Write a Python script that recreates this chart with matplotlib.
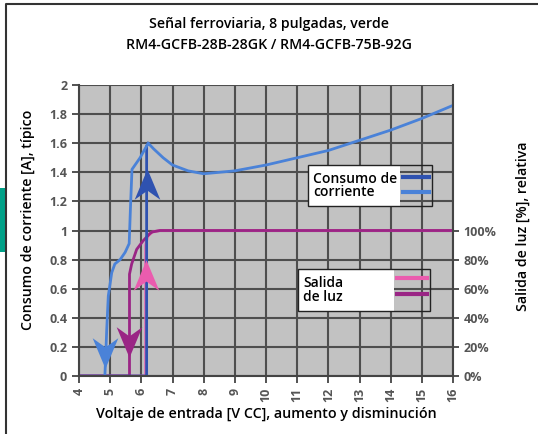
import matplotlib
matplotlib.use('Agg')
import matplotlib.pyplot as plt
from matplotlib.patches import Rectangle
from matplotlib.lines import Line2D
from matplotlib.path import Path

# current, rising voltage (dark blue)
cur_up_x = [4.0, 6.17, 6.17, 6.22]
cur_up_y = [0.0, 0.0, 1.58, 1.60]

# current, falling voltage (light blue)
cur_dn_x = [16.0, 15.0, 14.0, 13.0, 12.0, 11.0, 10.0, 9.0, 8.0, 7.5, 7.0, 6.7, 6.4, 6.22,
            5.96, 5.7, 5.65, 5.61, 5.48, 5.32, 5.15, 5.05, 4.94, 4.89, 4.85, 4.83]
cur_dn_y = [1.86, 1.77, 1.69, 1.62, 1.55, 1.50, 1.45, 1.41, 1.39, 1.41, 1.45, 1.50, 1.56, 1.60,
            1.50, 1.42, 1.15, 0.91, 0.85, 0.80, 0.77, 0.71, 0.55, 0.32, 0.10, 0.0]

# light output, rising voltage (pink)
lum_up_x = [4.0, 6.14, 6.14, 6.2, 6.35, 6.6, 16.0]
lum_up_y = [0.0, 0.0, 0.90, 0.96, 0.99, 1.0, 1.0]

# light output, falling voltage (purple)
lum_dn_x = [16.0, 6.6, 6.35, 6.28, 6.06, 5.85, 5.69, 5.62, 5.62, 4.0]
lum_dn_y = [1.0, 1.0, 0.99, 0.98, 0.93, 0.87, 0.77, 0.70, 0.0, 0.0]

# direction arrows: x, y (centre), pointing up?
arr_x = [6.17, 4.83, 5.62, 6.14]
arr_y = [1.32, 0.155, 0.235, 0.695]
arr_up = [True, False, False, True]

x_ticks = list(range(4, 17))
y_ticks = [0, 0.2, 0.4, 0.6, 0.8, 1, 1.2, 1.4, 1.6, 1.8, 2]
y_labels = ['0', '0.2', '0.4', '0.6', '0.8', '1', '1.2', '1.4', '1.6', '1.8', '2']
r_ticks = [0, 20, 40, 60, 80, 100]
r_labels = ['0%', '20%', '40%', '60%', '80%', '100%']

c_dark = '#2f52b0'
c_light = '#4a82d8'
c_pink = '#ea5cae'
c_purple = '#9a2585'
c_tick = '#555555'
arr_col = [c_dark, c_light, c_purple, c_pink]

plt.rcParams['font.family'] = ['Open Sans', 'DejaVu Sans']

fig = plt.figure(figsize=(5.38, 4.34), dpi=100)
W, H = 538, 434
ax = fig.add_axes([79 / W, 1 - 376 / H, (453 - 79) / W, (376 - 85) / H])
ax.set_facecolor('#c2c2c2')
ax.set_xlim(4, 16)
ax.set_ylim(0, 2)
ax.set_xticks(x_ticks)
ax.set_yticks(y_ticks)
ax.set_yticklabels(y_labels)
ax.grid(True, color='#4e4e4e', lw=1.5)
ax.set_axisbelow(True)
ax.spines['top'].set_visible(False)
for s in ['left', 'bottom', 'right']:
    ax.spines[s].set_color('#444444')
    ax.spines[s].set_linewidth(1.5)
ax.tick_params(axis='x', labelrotation=90, length=5, width=1.3, color='#444444', labelsize=9, labelcolor=c_tick)
ax.tick_params(axis='y', length=5, width=1.3, color='#444444', labelsize=9, labelcolor=c_tick)
for t in ax.get_xticklabels() + ax.get_yticklabels():
    t.set_fontweight('bold')

ax.plot(lum_up_x, lum_up_y, color=c_pink, lw=2, solid_joinstyle='round')
ax.plot(lum_dn_x, lum_dn_y, color=c_purple, lw=2, solid_joinstyle='round')
ax.plot(cur_up_x, cur_up_y, color=c_dark, lw=2, solid_joinstyle='round')
ax.plot(cur_dn_x, cur_dn_y, color=c_light, lw=2, solid_joinstyle='round')

# notched arrow heads as markers
up_head = Path([(0, 0.5), (0.42, -0.5), (0, -0.2), (-0.42, -0.5), (0, 0.5)],
               [Path.MOVETO, Path.LINETO, Path.LINETO, Path.LINETO, Path.CLOSEPOLY])
dn_head = Path([(0, -0.5), (0.42, 0.5), (0, 0.2), (-0.42, 0.5), (0, -0.5)],
               [Path.MOVETO, Path.LINETO, Path.LINETO, Path.LINETO, Path.CLOSEPOLY])
for x, y, up, c in zip(arr_x, arr_y, arr_up, arr_col):
    ax.plot([x], [y], marker=up_head if up else dn_head, markersize=22, color=c,
            markeredgewidth=0, linestyle='none')

ax2 = ax.twinx()
ax2.set_ylim(0, 200)
ax2.set_yticks(r_ticks)
ax2.set_yticklabels(r_labels)
ax2.tick_params(axis='y', length=4, width=1.3, color='#444444', labelsize=9, labelcolor=c_tick)
for t in ax2.get_yticklabels():
    t.set_fontweight('bold')
for s in ['top', 'left', 'bottom', 'right']:
    ax2.spines[s].set_visible(False)

# legend boxes drawn by hand (white text area + line samples on grey)
def legend_box(x0, y0, x1, y1, xw, text, c1, c2, y_l1, y_l2):
    tr = fig.transFigure
    fig.patches.append(Rectangle((x0 / W, 1 - y1 / H), (xw - x0) / W, (y1 - y0) / H,
                                 transform=tr, facecolor='white', edgecolor='none', zorder=5))
    fig.patches.append(Rectangle((x0 / W, 1 - y1 / H), (x1 - x0) / W, (y1 - y0) / H,
                                 transform=tr, facecolor='none', edgecolor='#222222', lw=1, zorder=6))
    fig.text((x0 + 5) / W, 1 - (y0 + y1) / 2 / H, text, fontsize=10, va='center', ha='left',
             color='black', linespacing=0.95, zorder=7, fontweight='semibold')
    fig.lines.append(Line2D([(xw + 3) / W, (x1 - 3) / W], [1 - y_l1 / H] * 2, transform=tr,
                            color=c1, lw=3, zorder=7))
    fig.lines.append(Line2D([(xw + 3) / W, (x1 - 3) / W], [1 - y_l2 / H] * 2, transform=tr,
                            color=c2, lw=3, zorder=7))

legend_box(308, 165, 432, 206, 400, 'Consumo de\ncorriente', c_dark, c_light, 177, 192)
legend_box(298, 269, 430, 311, 394, 'Salida\nde luz', c_pink, c_purple, 278, 294)

fig.text(269 / W, 1 - 24 / H, 'Señal ferroviaria, 8 pulgadas, verde', ha='center', va='center',
         fontsize=10.2, fontweight='semibold')
fig.text(269 / W, 1 - 45 / H, 'RM4-GCFB-28B-28GK / RM4-GCFB-75B-92G', ha='center', va='center',
         fontsize=10.2, fontweight='semibold')
fig.text(266 / W, 1 - 414 / H, 'Voltaje de entrada [V CC], aumento y disminución', ha='center',
         va='center', fontsize=10.3, fontweight='semibold')
fig.text(28 / W, 1 - 220 / H, 'Consumo de corriente [A], típico', ha='center', va='center',
         rotation=90, fontsize=10.2, fontweight='semibold')
fig.text(523 / W, 1 - 226 / H, 'Salida de luz [%], relativa', ha='center', va='center',
         rotation=90, fontsize=10.2, fontweight='semibold')

# outer frame and green tab
fig.lines.append(Line2D([6 / W, 6 / W, 1], [0, 1 - 4 / H, 1 - 4 / H], transform=fig.transFigure,
                        color='#333333', lw=1.5))
fig.patches.append(Rectangle((0, 1 - 252 / H), 5 / W, 64 / H, transform=fig.transFigure,
                             facecolor='#00a087', edgecolor='none'))

fig.savefig('out.png', dpi=100)
